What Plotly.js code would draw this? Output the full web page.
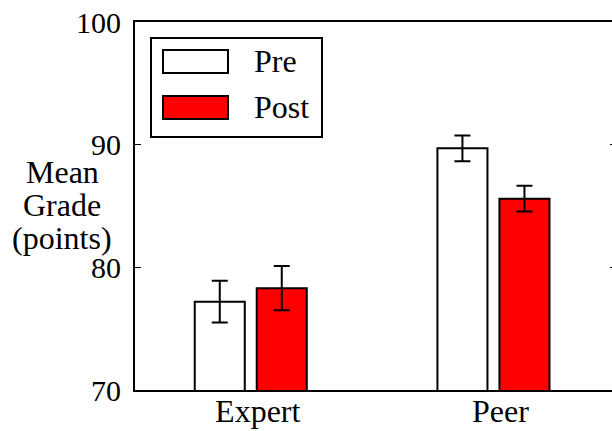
<!DOCTYPE html>
<html>
<head>
<meta charset="utf-8">
<script src="https://cdn.plot.ly/plotly-3.0.1.min.js"></script>
<style>
  html, body { margin: 0; padding: 0; overflow: hidden; background: #fff; }
  #chart { width: 620px; height: 431px; }
</style>
</head>
<body>
<div id="chart"></div>
<script>
// Mean grade per reviewer group, before and after
const groups = ['Expert', 'Peer'];
const seriesNames = ['Pre', 'Post'];
const preMeans = [77.2, 89.7];
const preErrors = [1.7, 1.05];
const postMeans = [78.3, 85.6];
const postErrors = [1.8, 1.05];
const yTicks = [70, 80, 90, 100];
const yTitleLines = ['Mean', 'Grade', '(points)'];

const FONT = 'Liberation Serif, Times New Roman, serif';
const FS = 30;      // y tick labels
const FS_L = 32;    // category labels, legend, axis title
const fills = ['#ffffff', '#ff0000'];

function barTrace(name, means, errs, fill) {
  return {
    type: 'bar',
    name: name,
    x: groups,
    y: means,
    marker: { color: fill, line: { color: '#000', width: 2 } },
    error_y: { type: 'data', array: errs, visible: true, color: '#000', thickness: 2, width: 8 },
    showlegend: false
  };
}

const traces = [
  barTrace(seriesNames[0], preMeans, preErrors, fills[0]),
  barTrace(seriesNames[1], postMeans, postErrors, fills[1])
];

// plot area geometry in pixels (used to place the hand-built legend and axis title)
const M = { l: 135, r: 4, t: 22, b: 41 };
const W = 620, H = 431;
const pw = W - M.l - M.r, ph = H - M.t - M.b;
const px = v => (v - M.l) / pw;
const py = v => (H - M.b - v) / ph;

const shapes = [];
const annotations = [];

// legend frame
shapes.push({ type: 'rect', xref: 'paper', yref: 'paper',
  x0: px(151), x1: px(322), y0: py(137), y1: py(38),
  line: { color: '#000', width: 2 }, fillcolor: '#fff' });

seriesNames.forEach((name, i) => {
  const top = 50 + i * 46;
  shapes.push({ type: 'rect', xref: 'paper', yref: 'paper',
    x0: px(163), x1: px(228), y0: py(top + 23), y1: py(top),
    line: { color: '#000', width: 2 }, fillcolor: fills[i] });
  annotations.push({ xref: 'paper', yref: 'paper', x: px(252), y: py(top + 11),
    xanchor: 'left', yanchor: 'middle', showarrow: false, text: name,
    font: { family: FONT, size: FS_L, color: '#000' } });
});

// horizontal y-axis title, one line per annotation for tight spacing
yTitleLines.forEach((line, i) => {
  annotations.push({ xref: 'paper', yref: 'paper', x: px(62), y: py(172 + i * 33),
    xanchor: 'center', yanchor: 'middle', showarrow: false, text: line,
    font: { family: FONT, size: FS_L, color: '#000' } });
});

const layout = {
  width: W, height: H,
  margin: M,
  paper_bgcolor: '#fff', plot_bgcolor: '#fff',
  font: { family: FONT, size: FS, color: '#000' },
  barmode: 'group',
  bargap: 0.489,
  bargroupgap: 0.193,
  xaxis: {
    type: 'category',
    range: [-0.477, 1.505],
    showline: true, linecolor: '#000', linewidth: 2, mirror: true,
    ticks: '', showgrid: false, zeroline: false,
    ticklabelshift: 7,
    ticklabelstandoff: -8,
    tickfont: { family: FONT, size: FS_L, color: '#000' }
  },
  yaxis: {
    range: [70, 100],
    tickvals: yTicks,
    ticktext: yTicks.map(String),
    ticks: 'inside', ticklen: 6, tickwidth: 1.5, tickcolor: '#000',
    showline: true, linecolor: '#000', linewidth: 2, mirror: 'ticks',
    showgrid: false, zeroline: false,
    ticklabelstandoff: 6,
    tickfont: { family: FONT, size: FS, color: '#000' }
  },
  shapes: shapes,
  annotations: annotations,
  showlegend: false
};

Plotly.newPlot('chart', traces, layout, { staticPlot: true, displayModeBar: false });
</script>
</body>
</html>
